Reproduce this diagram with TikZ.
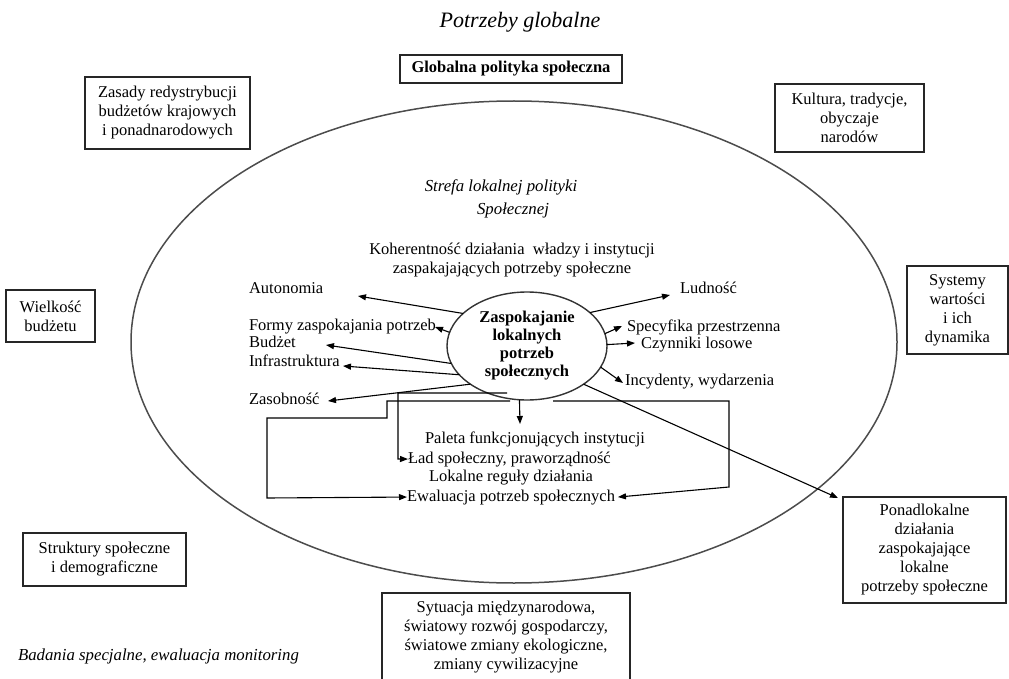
\documentclass[tikz,border=0pt]{standalone}
\usepackage{fontspec}
\setmainfont{Liberation Serif}
\usetikzlibrary{shapes.geometric,arrows.meta}
\begin{document}
\begin{tikzpicture}[x=1pt,y=-1pt,
  every node/.style={inner sep=0pt, outer sep=0pt},
  t/.style={font=\fontsize{16.5}{19}\selectfont, align=center},
  it/.style={font=\fontsize{16.8}{22}\selectfont\itshape, align=center},
  box/.style={draw=black!85, line width=1.4pt, t},
  ln/.style={line width=1.1pt, draw=black},
  arr/.style={ln, -{Triangle[length=8pt,width=6pt]}},
]
\useasboundingbox (0,0) rectangle (1009,679);

% big zone
\node[ellipse, draw=black!70, line width=1.5pt, minimum width=766pt, minimum height=482pt] (zone) at (514,342) {};

% title and remarks
\node[font=\fontsize{22}{26}\selectfont\itshape] (title) at (520,22) {Potrzeby globalne};
\node[it, anchor=base west] (badania) at (18,660) {Badania specjalne, ewaluacja monitoring};

% outer boxes
\node[box, minimum width=222pt, minimum height=28pt] (glob) at (511,69) {\bfseries Globalna polityka społeczna};
\node[box, minimum width=165pt, minimum height=72pt] (zasady) at (167.5,113) {Zasady redystrybucji\\budżetów krajowych\\i ponadnarodowych};
\node[box, minimum width=149pt, minimum height=68pt] (kultura) at (849.5,118) {Kultura, tradycje,\\obyczaje\\narodów};
\node[box, minimum width=101pt, minimum height=88pt] (systemy) at (957.5,310) {Systemy\\wartości\\i ich\\dynamika};
\node[box, minimum width=89pt, minimum height=52pt] (wielkosc) at (50.5,316) {Wielkość\\budżetu};
\node[box, minimum width=163pt, minimum height=106pt] (ponad) at (924.5,550) {Ponadlokalne\\działania\\zaspokajające\\lokalne\\potrzeby społeczne};
\node[box, minimum width=163pt, minimum height=53pt] (struktury) at (104.5,559.5) {Struktury społeczne\\i demograficzne};
\node[box, minimum width=248pt, minimum height=88pt] (sytuacja) at (506,637) {Sytuacja międzynarodowa,\\światowy rozwój gospodarczy,\\światowe zmiany ekologiczne,\\zmiany cywilizacyjne};

% zone texts
\node[it] (strefa1) at (501,187) {Strefa lokalnej polityki};
\node[it] (strefa2) at (513,210) {Społecznej};
\node[t] (koher) at (512,260) {Koherentność działania\ \ władzy i instytucji\\zaspakajających potrzeby społeczne};

% core ellipse
\node[ellipse, draw=black!80, line width=1.4pt, fill=white, minimum width=160pt, minimum height=108pt,
      font=\bfseries\fontsize{16.5}{18}\selectfont, align=center] (core) at (527,346)
      {Zaspokajanie\\lokalnych\\potrzeb\\społecznych};

% labels
\node[t, anchor=base west] (aut) at (249,293) {Autonomia};
\node[t, anchor=base west] (formy) at (249,330) {Formy zaspokajania potrzeb};
\node[t, anchor=base west] (bud) at (249,347) {Budżet};
\node[t, anchor=base west] (infra) at (249,366) {Infrastruktura};
\node[t, anchor=base west] (zasob) at (249,404) {Zasobność};
\node[t, anchor=base west] (lud) at (680,293) {Ludność};
\node[t, anchor=base west] (spec) at (627,331) {Specyfika przestrzenna};
\node[t, anchor=base west] (czyn) at (641,348) {Czynniki losowe};
\node[t, anchor=base west] (incy) at (625,385) {Incydenty, wydarzenia};
\node[t, anchor=base west] (pal) at (425,443) {Paleta funkcjonujących instytucji};
\node[t, anchor=base west] (lad) at (408,463) {Ład społeczny, praworządność};
\node[t, anchor=base west] (lok) at (429,481) {Lokalne reguły działania};
\node[t, anchor=base west] (ewa) at (407,501) {Ewaluacja potrzeb społecznych};

% arrow end points
\coordinate (tAut) at (358,296);
\coordinate (tFor) at (435,327);
\coordinate (tBud) at (326,345);
\coordinate (tInf) at (343,366);
\coordinate (tZas) at (328,401);
\coordinate (tLud) at (670,295);
\coordinate (tSpe) at (622,326);
\coordinate (tCzy) at (635,343);
\coordinate (tInc) at (623,383);
\coordinate (tPon) at (838,498);
\coordinate (tPal) at (520,424);

\draw[arr] (core.153) -- (tAut);
\draw[arr] (core.170) -- (tFor);
\draw[arr] (core.193) -- (tBud);
\draw[arr] (core.203) -- (tInf);
\draw[arr] (core.214) -- (tZas);
\draw[arr] (core.28) -- (tLud);
\draw[arr] (core.9) -- (tSpe);
\draw[arr] (core.1) -- (tCzy);
\draw[arr] (core.-16) -- (tInc);
\draw[arr] (core.-34) -- (tPon);
\draw[arr] (core.262) -- (tPal);

% feedback routes
\coordinate (l1) at (507,393);
\coordinate (l2) at (510,401);
\coordinate (l3) at (553,401);
\draw[arr] (l1) -- (398,393) -- (398,459) -- (lad.west);
\draw[arr] (l2) -- (387,401) -- (387,418) -- (267,418) -- (267,498) -- (ewa.west);
\draw[arr] (l3) -- (729,401) -- (729,487) -- ([xshift=3pt]ewa.east);
\end{tikzpicture}
\end{document}
